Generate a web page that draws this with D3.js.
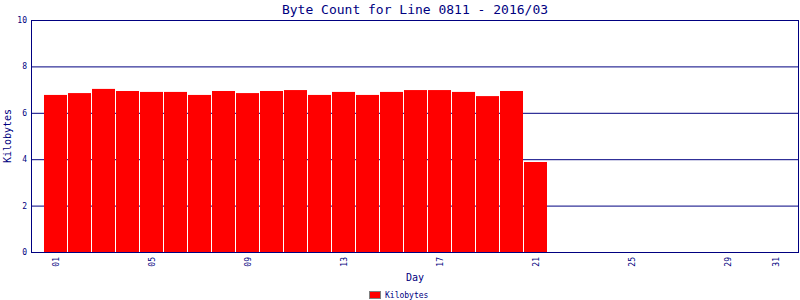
<!DOCTYPE html>
<html>
<head>
<meta charset="utf-8">
<script src="https://cdn.jsdelivr.net/npm/d3@7"></script>
<style>
  body { margin: 0; background: #fff; }
  text { font-family: "DejaVu Sans Mono", monospace; fill: #000080; }
</style>
</head>
<body>
<svg width="800" height="300"></svg>
<script>
const days = d3.range(1, 32).map(d => String(d).padStart(2, "0"));
const kilobytes = [6.77, 6.85, 7.03, 6.94, 6.90, 6.90, 6.77, 6.94, 6.85, 6.94,
                   6.98, 6.77, 6.90, 6.77, 6.90, 6.98, 6.98, 6.90, 6.72, 6.94, 3.88];
const tickDays = ["01", "05", "09", "13", "17", "21", "25", "29", "31"];
const yTicks = [0, 2, 4, 6, 8, 10];

const svg = d3.select("svg");
const navy = "#000080";

const x = d3.scaleBand().domain(days).range([44, 788]);
const y = d3.scaleLinear().domain([0, 10]).range([252, 20]);

// grid lines
svg.selectAll("line.grid").data(yTicks.filter(d => d > 0))
    .enter().append("line")
    .attr("x1", 31).attr("x2", 799)
    .attr("y1", d => y(d) + 0.5).attr("y2", d => y(d) + 0.5)
    .attr("stroke", navy).attr("stroke-width", 1);

// bars
svg.selectAll("rect.bar").data(kilobytes)
    .enter().append("rect")
    .attr("x", (d, i) => x(days[i]))
    .attr("y", d => y(d))
    .attr("width", x.bandwidth() - 1)
    .attr("height", d => y(0) - y(d))
    .attr("fill", "#ff0000");

// frame
svg.append("line").attr("x1", 31.5).attr("x2", 31.5).attr("y1", 20).attr("y2", 253)
    .attr("stroke", navy);
svg.append("line").attr("x1", 798.5).attr("x2", 798.5).attr("y1", 20).attr("y2", 253)
    .attr("stroke", navy);
svg.append("line").attr("x1", 31).attr("x2", 799).attr("y1", 252.5).attr("y2", 252.5)
    .attr("stroke", navy);

// y tick labels
svg.selectAll("text.ytick").data(yTicks)
    .enter().append("text")
    .attr("x", 27).attr("y", d => y(d) + 3)
    .attr("text-anchor", "end")
    .style("font-size", "8px")
    .text(d => d);

// x tick labels
svg.selectAll("text.xtick").data(tickDays)
    .enter().append("text")
    .attr("transform", d => `translate(${x(d) + x.bandwidth() / 2 + 3},257) rotate(-90)`)
    .attr("text-anchor", "end")
    .style("font-size", "8px")
    .text(d => d);

// title and axis names
svg.append("text").attr("x", 415).attr("y", 14)
    .attr("text-anchor", "middle").style("font-size", "13px")
    .text("Byte Count for Line 0811 - 2016/03");
svg.append("text").attr("x", 415).attr("y", 281)
    .attr("text-anchor", "middle").style("font-size", "10px")
    .text("Day");
svg.append("text").attr("transform", "translate(11,136) rotate(-90)")
    .attr("text-anchor", "middle").style("font-size", "10px")
    .text("Kilobytes");

// legend
svg.append("rect").attr("x", 369.5).attr("y", 291.5).attr("width", 11).attr("height", 7)
    .attr("fill", "#ff0000").attr("stroke", "#808080");
svg.append("text").attr("x", 385).attr("y", 298)
    .style("font-size", "8px").text("Kilobytes");
</script>
</body>
</html>
